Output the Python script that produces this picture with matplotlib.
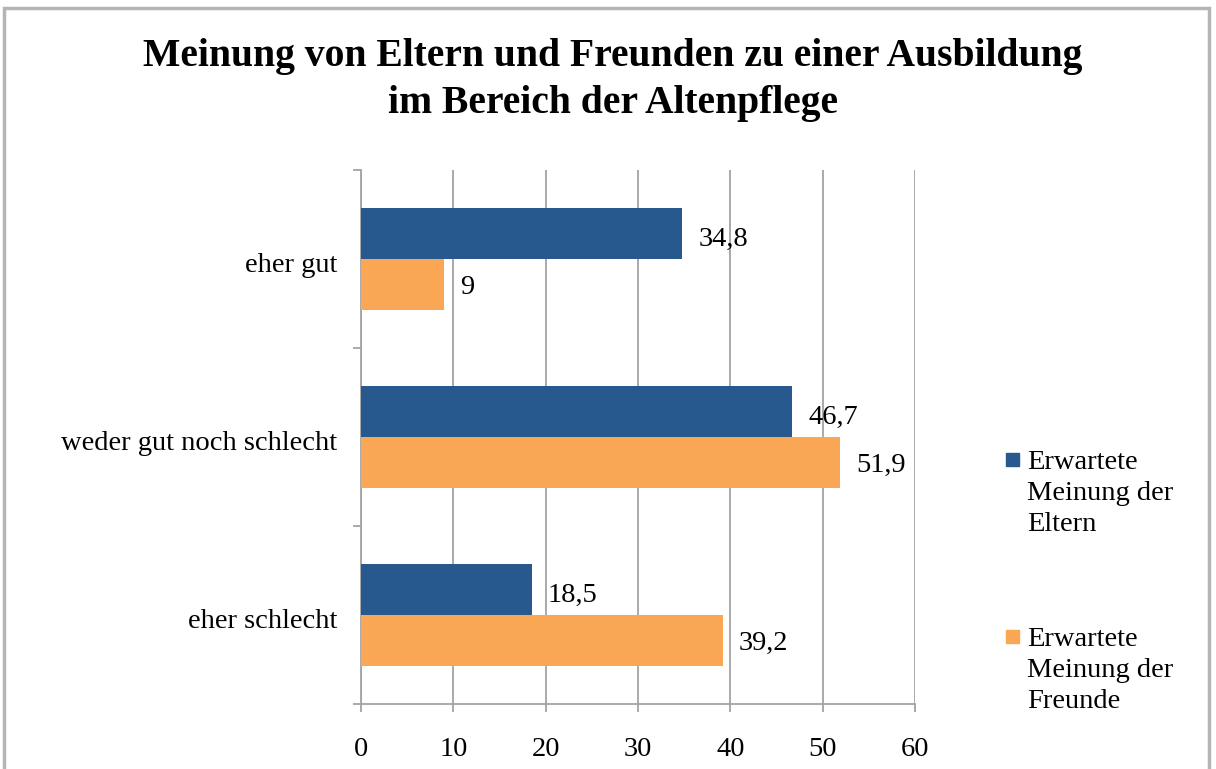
import matplotlib
matplotlib.use('Agg')
import matplotlib.pyplot as plt
import matplotlib.transforms as mtransforms
from matplotlib.patches import Rectangle

# ------------------------------- DATA ------------------------------- #
categories = ['eher gut', 'weder gut noch schlecht', 'eher schlecht']
eltern = [34.8, 46.7, 18.5]
freunde = [9, 51.9, 39.2]
series_names = ['Erwartete\nMeinung der\nEltern', 'Erwartete\nMeinung der\nFreunde']
x_ticks = [0, 10, 20, 30, 40, 50, 60]

BLUE = '#28598E'
ORANGE = '#F9A655'
GRID = '#A3A3A3'
FS = 20.5

plt.rcParams['font.family'] = ['Liberation Serif', 'DejaVu Serif']

fig = plt.figure(figsize=(12.16, 7.69), dpi=100)
ax = fig.add_axes([361/1216, 1-704/769, 554/1216, 534/769])

# category positions, top to bottom
ypos = [len(categories)-1-i for i in range(len(categories))]
h = 0.284
b1 = ax.barh([y + h/2 for y in ypos], eltern, height=h, color=BLUE, zorder=3)
b2 = ax.barh([y - h/2 for y in ypos], freunde, height=h, color=ORANGE, zorder=3)

for bars, vals, dy in ((b1, eltern, -4), (b2, freunde, -2.5)):
        for rect, v in zip(bars, vals):
                lab = ('%g' % v).replace('.', ',')
                ax.annotate(lab, (v, rect.get_y() + rect.get_height()/2),
                            xytext=(11.5, dy), textcoords='offset points',
                            va='center', ha='left', fontsize=FS)

ax.set_xlim(0, 60)
ax.set_ylim(-0.5, len(categories)-0.5)
ax.set_xticks(x_ticks)
ax.set_xticklabels([str(t) for t in x_ticks], fontsize=FS)
ax.tick_params(axis='x', length=5.8, width=1.3, color=GRID, pad=18)

# boundary ticks (major) + centered labels (minor)
ax.set_yticks([i - 0.5 for i in range(len(categories)+1)])
ax.set_yticklabels([])
ax.set_yticks(ypos, minor=True)
ax.set_yticklabels(categories, minor=True, fontsize=FS)
ax.tick_params(axis='y', which='major', length=5.8, width=1.3, color=GRID)
ax.tick_params(axis='y', which='minor', length=0, pad=17)
shift = mtransforms.ScaledTranslation(0, -4/100, fig.dpi_scale_trans)
for lbl in ax.get_yticklabels(minor=True):
        lbl.set_transform(lbl.get_transform() + shift)

ax.grid(axis='x', color=GRID, linewidth=1.3, zorder=0)
for s in ('top', 'right'):
        ax.spines[s].set_visible(False)
for s in ('left', 'bottom'):
        ax.spines[s].set_color(GRID)
        ax.spines[s].set_linewidth(1.3)

fig.text(613/1216, 1-80/769, 'Meinung von Eltern und Freunden zu einer Ausbildung\nim Bereich der Altenpflege',
         ha='center', va='center', fontsize=28.5, fontweight='bold', linespacing=1.35)

# legend
for (y_top, name, col) in ((450, series_names[0], BLUE), (627, series_names[1], ORANGE)):
        fig.patches.append(Rectangle((1006/1216, 1-(y_top+16)/769), 13/1216, 13/769,
                                     transform=fig.transFigure, color=col))
        fig.text(1027/1216, 1-y_top/769, name, ha='left', va='top', fontsize=FS, linespacing=1.32)

# outer frame
fig.patches.append(Rectangle((4/1216, -0.1), 1205/1216, 1.1-8/769, transform=fig.transFigure,
                             fill=False, edgecolor='#B5B5B5', linewidth=2.5))

fig.savefig('out.png', dpi=100)
